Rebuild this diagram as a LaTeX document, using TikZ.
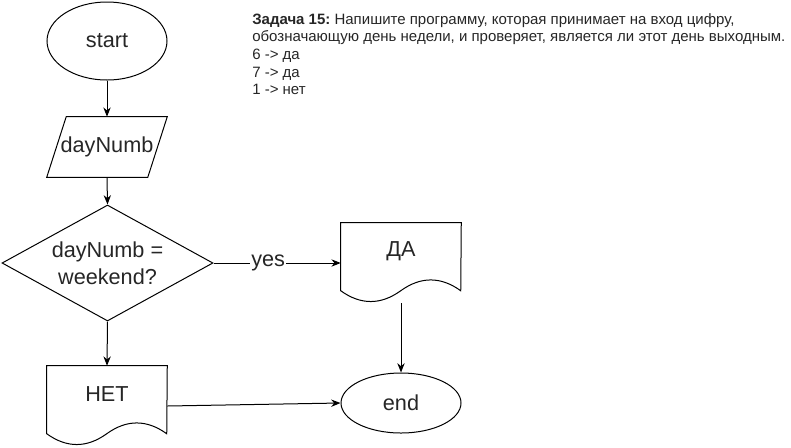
\documentclass[tikz,border=0pt]{standalone}
\usepackage{fontspec}
\setmainfont{Liberation Sans}
\usetikzlibrary{shapes.geometric,arrows.meta}
\frenchspacing
\newcommand\docpath[1]{%
  \draw[line] (#1.north west) -- (#1.north east) -- ([shift={(120,68)}]#1.north west)
   .. controls ([shift={(100,53.6)}]#1.north west) and ([shift={(80,53.6)}]#1.north west) .. ([shift={(60,68)}]#1.north west)
   .. controls ([shift={(40,82.4)}]#1.north west) and ([shift={(20,82.4)}]#1.north west) .. ([shift={(0,68)}]#1.north west)
   -- cycle;}
\begin{document}
\begin{tikzpicture}[x=0.75pt,y=-0.75pt,
  line/.style={draw=black,line width=0.75pt},
  big/.style={font=\fontsize{16.25pt}{20.25pt}\selectfont, text=black!85},
  term/.style={ellipse,line,big,minimum width=90pt,inner sep=0pt},
  plain/.style={big,minimum width=90pt,inner sep=0pt},
  decision/.style={diamond,line,big,aspect=1.82,minimum width=158.25pt,minimum height=87pt,inner sep=0pt,align=center},
  arr/.style={line,-{Stealth[length=7pt,width=5.5pt]}}
]
\useasboundingbox (0,0) rectangle (791,447);

\node[term,minimum height=58.5pt] (start) at (107,41) {start};
\node[plain,minimum height=45pt] (inp) at (107,147) {dayNumb};
\draw[line] ([xshift=14.6pt]inp.north west) -- (inp.north east) -- ([xshift=-14.6pt]inp.south east) -- (inp.south west) -- cycle;
\node[decision] (dec) at (107.5,263) {dayNumb =\\weekend?};
\node[plain,minimum height=42pt] (da) at (401,251) {ДА};
\docpath{da}
\node[plain,minimum height=42pt] (net) at (107,394) {НЕТ};
\docpath{net}
\node[term,minimum height=45pt] (end) at (401,403) {end};

\node[anchor=north west,align=left,inner sep=0pt,text=black!85,
      font=\fontsize{11.25pt}{13.25pt}\selectfont\frenchspacing] (task) at (252,13)
  {\textbf{Задача 15:} Напишите программу, которая принимает на вход цифру,\\
   обозначающую день недели, и проверяет, является ли этот день выходным.\\
   6 -> да\\
   7 -> да\\
   1 -> нет};

\draw[arr] (start.south) -- (inp.north);
\draw[arr] (inp.south) -- (dec.north);
\draw[arr] (dec.east) -- node[pos=0.43,fill=white,inner sep=1pt,big] {yes} (dec.east -| da.west);
\draw[arr] (dec.south) -- (net.north);
\draw[arr] ([yshift=-18pt]da.south) -- (end.north);
\draw[arr] ([yshift=-9pt]net.east) -- (end.west);
\end{tikzpicture}
\end{document}
